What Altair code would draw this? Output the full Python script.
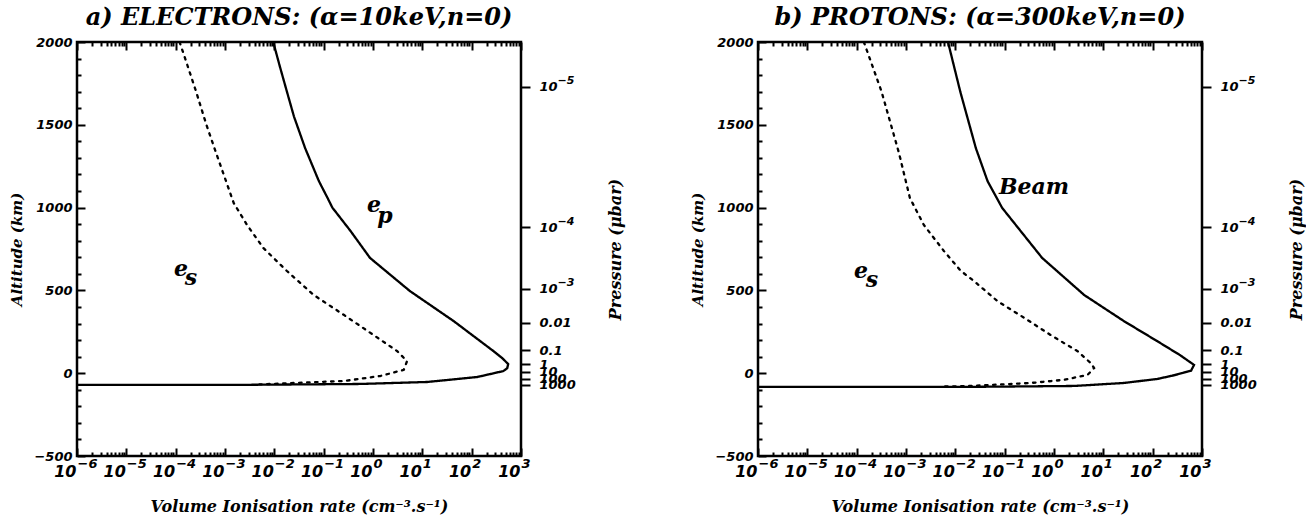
import json
import altair as alt
import pandas as pd

# ---------------- data ----------------
# a) ELECTRONS  - solid curve e_p
a_ep_rate = [0.0095, 0.013, 0.018, 0.025, 0.042, 0.080, 0.12, 0.15, 0.35, 0.87, 5.6, 43,
             275, 420, 550, 525, 440, 130, 12.6, 0.55, 0.0011, 1e-6]
a_ep_alt = [2000, 1850, 1700, 1550, 1360, 1160, 1058, 1000, 859, 696, 496, 315,
            134, 90, 55, 30, 13, -23, -53, -65, -71, -71]
# a) ELECTRONS  - dotted curve e_s
a_es_rate = [1.2e-4, 1.5e-4, 2.6e-4, 4.2e-4, 6.6e-4, 1.5e-3, 2.8e-3, 6.0e-3, 0.018, 0.063,
             0.26, 1.02, 3.1, 4.9, 4.2, 1.4, 0.26, 0.021, 0.005]
a_es_alt = [2000, 1915, 1700, 1500, 1330, 1028, 895, 756, 617, 472,
            351, 231, 133, 73, 20, -17, -47, -60, -68]

# b) PROTONS  - solid curve (Beam)
b_beam_rate = [0.0071, 0.0126, 0.026, 0.045, 0.089, 0.21, 0.575, 4.1, 26, 123, 355, 690,
               600, 250, 123, 26, 2.6, 0.032, 1e-6]
b_beam_alt = [2000, 1700, 1360, 1160, 998, 859, 696, 472, 315, 194, 110, 50,
              15, -15, -35, -59, -77, -82, -83]
# b) PROTONS  - dotted curve e_s
b_es_rate = [1.4e-4, 3.2e-4, 7.2e-4, 1.2e-3, 2.3e-3, 5.9e-3, 0.013, 0.024, 0.071, 0.25,
             0.85, 3.0, 5.6, 6.5, 4.8, 1.6, 0.34, 0.020, 0.005]
b_es_alt = [2000, 1700, 1330, 1058, 895, 737, 617, 556, 436, 334,
            231, 133, 60, 31, -10, -40, -59, -77, -81]

# curve annotations
a_lab_text = ["e", "p", "e", "s"]
a_lab_rate = [1.05, 1.74, 1.29e-4, 2.04e-4]
a_lab_alt = [1018, 952, 627, 572]
b_lab_text = ["Beam", "e", "s"]
b_lab_rate = [0.394, 1.23e-4, 2.04e-4]
b_lab_alt = [1127, 620, 560]

# axes
decade_ticks = [1e-6, 1e-5, 1e-4, 1e-3, 1e-2, 1e-1, 1e0, 1e1, 1e2, 1e3]
decade_exponents = ["−6", "−5", "−4", "−3", "−2", "−1", "0", "1", "2", "3"]
minor_mult = [2, 3, 4, 5, 6, 7, 8, 9]
alt_major = [-500, 0, 500, 1000, 1500, 2000]
alt_minor = [-400, -300, -200, -100, 100, 200, 300, 400, 600, 700, 800, 900,
             1100, 1200, 1300, 1400, 1600, 1700, 1800, 1900]
pressure_alts = [1730, 880, 510, 305, 140, 53, 8, -35, -70]
pressure_base = ["10", "10", "10", "0.01", "0.1", "1", "10", "100", "1000"]
pressure_exp_alts = [1730, 880, 510]
pressure_exps = ["−5", "−4", "−3"]

titles = ["a) ELECTRONS: (α=10keV,n=0)", "b) PROTONS: (α=300keV,n=0)"]
x_title = "Volume Ionisation rate (cm⁻³.s⁻¹)"
y_title = "Altitude (km)"
p_title = "Pressure (μbar)"

minor_ticks = [m * d for d in decade_ticks[:-1] for m in minor_mult]

# ---------------- style ----------------
SANS = "DejaVu Sans"
SERIF = "DejaVu Serif"
W, H = 444, 414
CLEAR = "rgba(0,0,0,0)"


def js(v):
    return json.dumps(v, ensure_ascii=False)


x_exp_expr = js(decade_exponents) + "[round(log(datum.value)/LN10)+6]"
p_base_expr = js(pressure_base) + "[indexof(" + js(pressure_alts) + ", datum.value)]"
p_exp_expr = js(pressure_exps) + "[indexof(" + js(pressure_exp_alts) + ", datum.value)]"

lab = dict(labelFont=SANS, labelFontSize=13, labelFontWeight="bold",
           labelFontStyle="italic", labelColor="black", grid=False, domain=False,
           labelFlush=False, labelOverlap=False)
ttl = dict(titleFont=SERIF, titleFontSize=13, titleFontWeight="bold",
           titleFontStyle="italic", titleColor="black")


def tick_axis(orient, values, size):
    return alt.Axis(orient=orient, values=values, labels=False, domain=False, grid=False,
                    ticks=True, tickSize=size, tickWidth=2, tickColor="black",
                    offset=-size, title=None)


def panel(title, s_rate, s_alt, d_rate, d_alt, l_text, l_rate, l_alt):
    rows = []
    for i, (r, a) in enumerate(zip(s_rate, s_alt)):
        rows.append({"rate": r, "alt": a, "series": "solid", "i": i})
    for i, (r, a) in enumerate(zip(d_rate, d_alt)):
        rows.append({"rate": r, "alt": a, "series": "dotted", "i": i})
    df = pd.DataFrame(rows)
    labels = pd.DataFrame({"text": l_text, "rate": l_rate, "alt": l_alt})

    xs = alt.Scale(type="log", domain=[1e-6, 1e3], nice=False)
    ys = alt.Scale(domain=[-500, 2000], nice=False, zero=False)
    base = alt.Chart(df)

    lines = base.mark_line(clip=True, color="black", strokeWidth=2.3, strokeCap="round").encode(
        x=alt.X("rate:Q", scale=xs,
                axis=alt.Axis(orient="bottom", values=decade_ticks, labelExpr="'10'",
                              labelAlign="right", labelOffset=-1,
                              ticks=False, tickSize=0, labelPadding=7,
                              title=x_title, titlePadding=19,
                              **dict(lab, labelFontSize=16), **dict(ttl, titleFontSize=16))),
        y=alt.Y("alt:Q", scale=ys,
                axis=alt.Axis(orient="left", values=alt_major, format="d", ticks=False,
                              tickSize=0, labelPadding=5, title=y_title, titlePadding=9,
                              **lab, **dict(ttl, titleFontSize=15))),
        strokeDash=alt.StrokeDash("series:N",
                                  scale=alt.Scale(domain=["solid", "dotted"],
                                                  range=[[1, 0], [2.5, 5.5]]),
                                  legend=None),
        order="i:Q",
    )

    inv = base.mark_point(opacity=0, size=1)
    major_in = inv.encode(
        x=alt.X("rate:Q", scale=xs, axis=tick_axis("bottom", decade_ticks, 8)),
        y=alt.Y("alt:Q", scale=ys, axis=tick_axis("left", alt_major, 8)),
    )
    minor_in = inv.encode(
        x=alt.X("rate:Q", scale=xs, axis=tick_axis("bottom", minor_ticks, 4)),
        y=alt.Y("alt:Q", scale=ys, axis=tick_axis("left", alt_minor, 4)),
    )
    top_major = inv.encode(
        x=alt.X("rate:Q", scale=xs, axis=tick_axis("top", decade_ticks, 8)),
        y=alt.Y("alt:Q", scale=ys,
                axis=alt.Axis(orient="right", values=pressure_alts, labelExpr=p_base_expr,
                              ticks=True, tickSize=9, tickWidth=2, tickColor="black",
                              labelPadding=9, title=p_title, titleAngle=270,
                              titlePadding=48, **lab, **dict(ttl, titleFontSize=16))),
    )
    top_minor = inv.encode(
        x=alt.X("rate:Q", scale=xs, axis=tick_axis("top", minor_ticks, 4)),
        y=alt.Y("alt:Q", scale=ys,
                axis=alt.Axis(orient="right", values=pressure_exp_alts, labelExpr=p_exp_expr,
                              ticks=True, tickSize=9, tickColor=CLEAR, labelPadding=27,
                              labelOffset=-6, title=None,
                              **dict(lab, labelFontSize=11))),
    )
    text = alt.Chart(labels).mark_text(font=SERIF, fontSize=22, fontWeight="bold",
                                       fontStyle="italic", color="black",
                                       align="center", baseline="middle").encode(
        x=alt.X("rate:Q", scale=xs,
                axis=alt.Axis(orient="bottom", values=decade_ticks, labelExpr=x_exp_expr,
                              labelAlign="left", labelOffset=0,
                              ticks=False, tickSize=0, labelPadding=1, title=None,
                              **dict(lab, labelFontSize=13))),
        y=alt.Y("alt:Q", scale=ys, axis=None),
        text="text:N",
    )

    return alt.layer(lines, major_in, minor_in, top_major, top_minor, text).resolve_axis(
        x="independent", y="independent"
    ).properties(
        width=W, height=H,
        title=alt.TitleParams(text=title, font=SERIF, fontSize=24, fontWeight="bold",
                              fontStyle="italic", color="black", anchor="middle", offset=6),
    )


left = panel(titles[0], a_ep_rate, a_ep_alt, a_es_rate, a_es_alt, a_lab_text, a_lab_rate, a_lab_alt)
right = panel(titles[1], b_beam_rate, b_beam_alt, b_es_rate, b_es_alt, b_lab_text, b_lab_rate, b_lab_alt)

chart = alt.hconcat(left, right, spacing=64).properties(
    padding={"left": 8, "top": 4, "right": 0, "bottom": 0},
    background="white",
).configure_view(stroke="black", strokeWidth=2.5)

chart.save("out.html", embed_options={"renderer": "svg", "actions": False})
